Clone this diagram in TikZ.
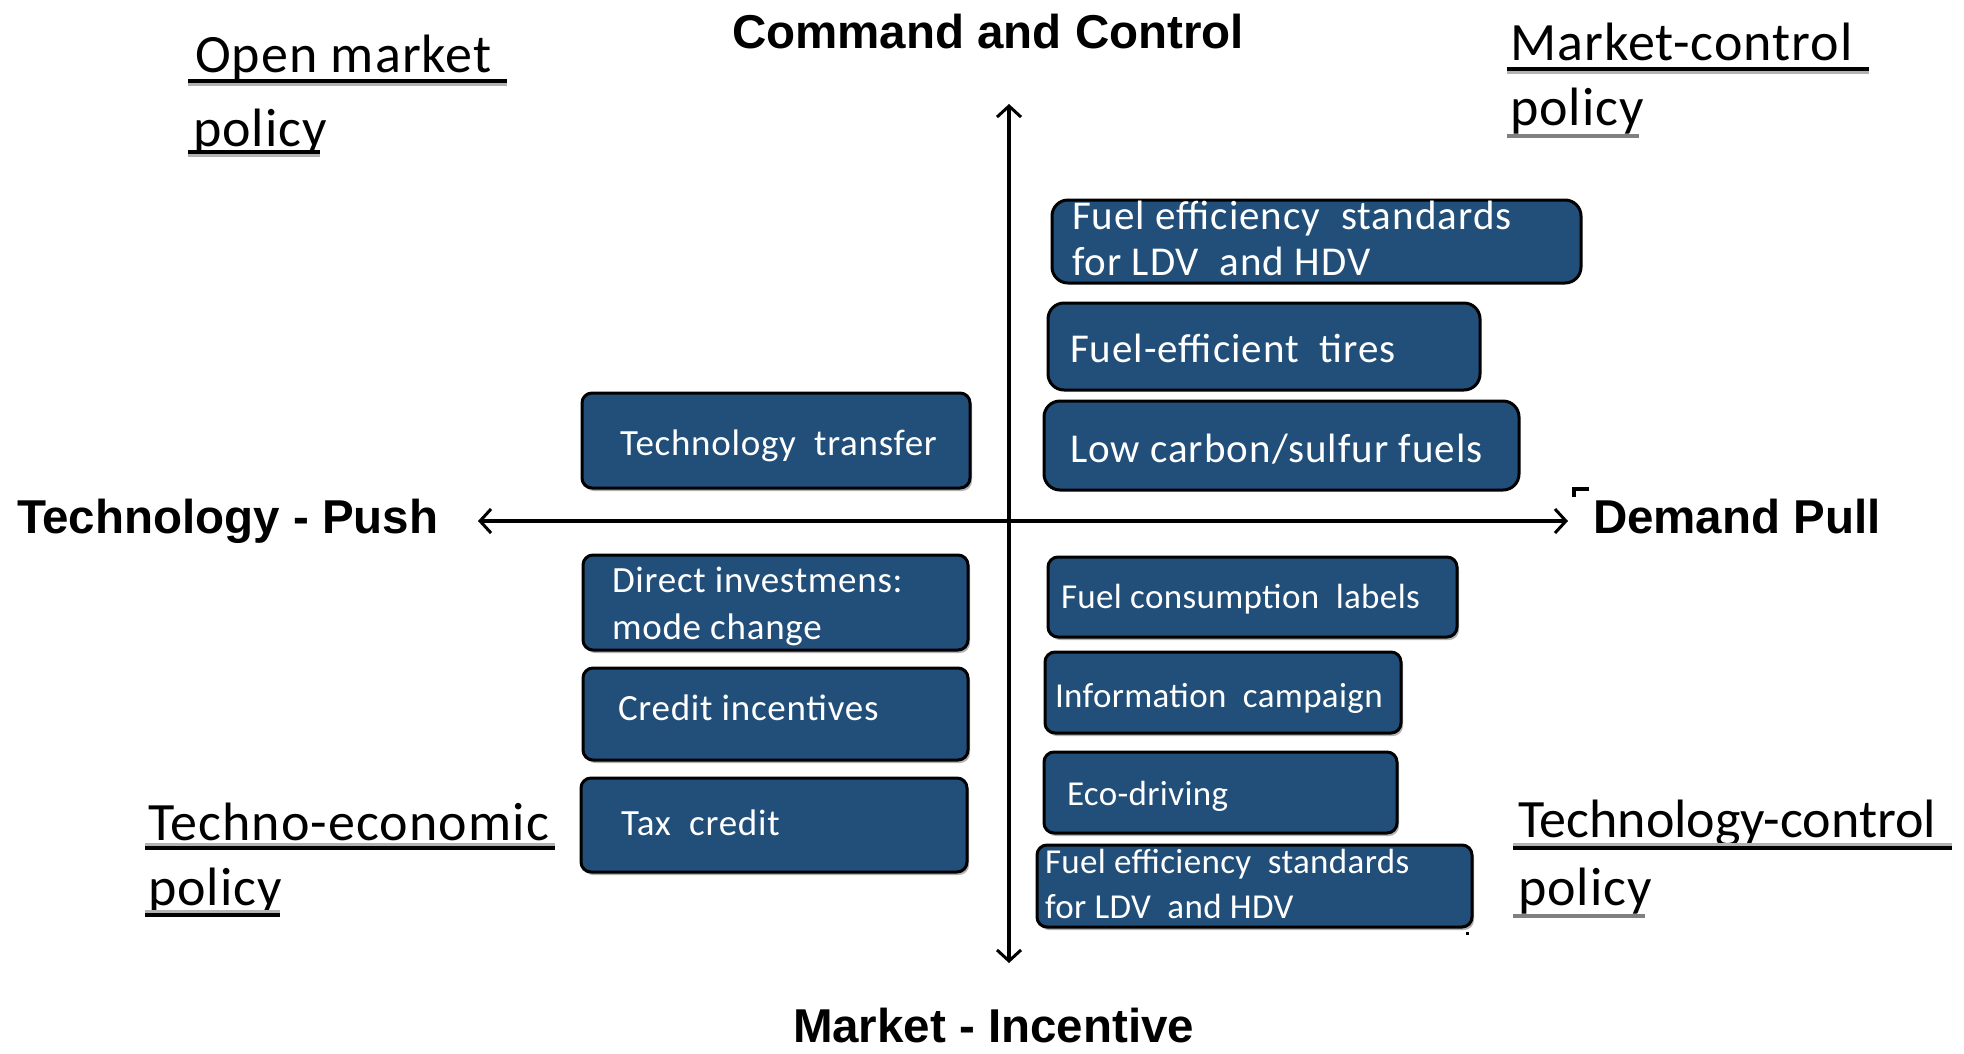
\documentclass[tikz,border=0pt]{standalone}
\usepackage{fontspec}
\setmainfont{Carlito}
\newfontfamily\headfont{Liberation Sans}
\usetikzlibrary{arrows.meta,shadows}

\definecolor{boxblue}{RGB}{33,79,121}

\tikzset{
  every node/.style={inner sep=0pt, outer sep=0pt},
  axislabel/.style={font=\headfont\bfseries\fontsize{47.5}{57}\selectfont, anchor=base west},
  policylabel/.style={font=\fontsize{54}{64}\selectfont\addfontfeatures{LetterSpace=2}, anchor=base west},
  policytight/.style={font=\fontsize{54}{64}\selectfont, anchor=base west},
  ulblack/.style={line width=3.5pt, draw=black},
  ulgray/.style={line width=3.5pt, draw=black!30},
  ulmid/.style={line width=4pt, draw=black!50},
  pbox/.style={draw=black, line width=3pt, fill=boxblue, rounded corners=16pt, anchor=north west},
  qbox/.style={pbox, rounded corners=10pt,
    drop shadow={shadow xshift=2pt, shadow yshift=-3pt, fill=black!30, opacity=1}},
  bigtxt/.style={font=\fontsize{41}{49}\selectfont\addfontfeatures{LetterSpace=2.5}, text=white, anchor=base west},
  lefttxt/.style={font=\fontsize{37}{44}\selectfont\addfontfeatures{LetterSpace=2}, text=white, anchor=base west},
  smalltxt/.style={font=\fontsize{35}{42}\selectfont\addfontfeatures{LetterSpace=1}, text=white, anchor=base west},
  barb/.tip={Straight Barb[length=11pt,width=24pt,line width=3pt]},
  axisline/.style={line width=3.5pt, draw=black, barb-barb}
}

\begin{document}
\begin{tikzpicture}[x=1pt, y=-1pt]
\useasboundingbox (0,0) rectangle (1964,1053);

% axes
\coordinate (vtop) at (1009,104);
\coordinate (vbot) at (1009,963);
\coordinate (hleft) at (478,521);
\coordinate (hright) at (1568,521);
\draw[axisline] (vbot) -- (vtop);
\draw[axisline] (hright) -- (hleft);

% axis titles
\node[axislabel] (cc) at (732,48) {Command and Control};
\node[axislabel] (mi) at (793,1042) {Market - Incentive};
\node[axislabel] (tp) at (17,533) {Technology - Push};
\node[axislabel] (dp) at (1593,533) {Demand Pull};

% quadrant names
\node[policylabel] (om1) at (195,72) {Open market};
\node[policylabel] (om2) at (193,146) {policy};
\draw[ulgray] (188,84) -- (507,84);
\draw[ulblack] (188,81) -- (507,81);
\draw[ulgray] (188,155) -- (320,155);
\draw[ulblack] (188,152) -- (320,152);

\node[policylabel] (mc1) at (1510,60) {Market-control};
\node[policylabel] (mc2) at (1510,125) {policy};
\draw[ulgray] (1507,72) -- (1869,72);
\draw[ulblack] (1507,69) -- (1869,69);
\draw[ulmid] (1507,136) -- (1639,136);

\node[policylabel] (te1) at (148,840) {Techno-economic};
\node[policylabel] (te2) at (148,905) {policy};
\draw[ulgray] (145,845) -- (555,845);
\draw[ulblack] (145,848) -- (555,848);
\draw[ulgray] (145,912) -- (280,912);
\draw[ulblack] (145,915) -- (280,915);

\node[policytight] (tc1) at (1518,837) {Technology-control};
\node[policylabel] (tc2) at (1518,905) {policy};
\draw[ulgray] (1513,845) -- (1952,845);
\draw[ulblack] (1513,848) -- (1952,848);
\draw[ulmid] (1513,916) -- (1645,916);

% command-and-control / demand-pull measures
\node[pbox, minimum width=529pt, minimum height=83pt] (fesTop) at (1052,200) {};
\node[bigtxt] (fesTopA) at (1072,229) {Fuel efficiency~ standards};
\node[bigtxt] (fesTopB) at (1072,275) {for LDV~ and HDV};

\node[pbox, minimum width=432pt, minimum height=87pt] (tires) at (1048,303) {};
\node[bigtxt] (tiresT) at (1070,362) {Fuel-efficient~ tires};

\node[pbox, minimum width=475pt, minimum height=89pt] (lowc) at (1044,401) {};
\node[bigtxt] (lowcT) at (1070,462) {Low carbon/sulfur fuels};

% technology-push measures
\node[qbox, minimum width=388pt, minimum height=95pt] (tech) at (582,393) {};
\node[lefttxt] (techT) at (620,455) {Technology~ transfer};

\node[qbox, minimum width=385pt, minimum height=95pt] (direct) at (583,555) {};
\node[lefttxt] (directA) at (612,592) {Direct investmens:};
\node[lefttxt] (directB) at (612,639) {mode change};

\node[qbox, minimum width=385pt, minimum height=92pt] (credit) at (583,668) {};
\node[lefttxt] (creditT) at (618,720) {Credit incentives};

\node[qbox, minimum width=386pt, minimum height=94pt] (tax) at (581,778) {};
\node[lefttxt] (taxT) at (621,835) {Tax~ credit};

% market-incentive / demand-pull measures
\node[qbox, minimum width=409pt, minimum height=80pt] (labels) at (1048,557) {};
\node[smalltxt] (labelsT) at (1061,608) {Fuel consumption~ labels};

\node[qbox, minimum width=356pt, minimum height=81pt] (info) at (1045,652) {};
\node[smalltxt] (infoT) at (1055,707) {Information~ campaign};

\node[qbox, minimum width=353pt, minimum height=81pt] (eco) at (1044,752) {};
\node[smalltxt] (ecoT) at (1067,805) {Eco-driving};

\node[qbox, minimum width=435pt, minimum height=82pt] (fesBot) at (1037,845) {};
\node[smalltxt] (fesBotA) at (1045,873) {Fuel efficiency~ standards};
\node[smalltxt] (fesBotB) at (1045,918) {for LDV~ and HDV};

% small marks
\draw[line width=4pt] (1574,497) -- (1574,489) -- (1589,489);
\fill (1466,932) rectangle (1469,935);
\end{tikzpicture}
\end{document}
